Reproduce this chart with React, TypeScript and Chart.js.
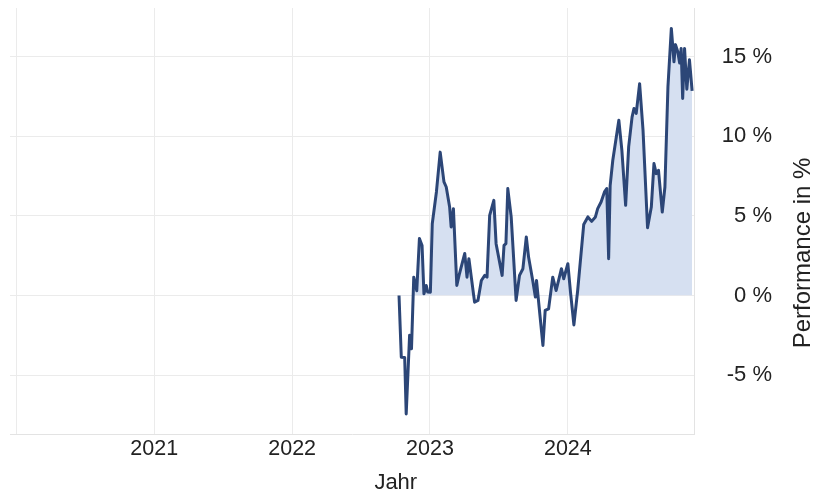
import React, { useEffect, useRef } from "react";
import { Chart, registerables } from "chart.js";

Chart.register(...registerables);

const dates: string[] = [
  "2022-10-11", "2022-10-17", "2022-10-26", "2022-10-30", "2022-11-08", "2022-11-13",
  "2022-11-19", "2022-11-27", "2022-12-04", "2022-12-11", "2022-12-16", "2022-12-22",
  "2022-12-26", "2023-01-02", "2023-01-07", "2023-01-18", "2023-01-28", "2023-02-07",
  "2023-02-13", "2023-02-22", "2023-02-26", "2023-03-04", "2023-03-13", "2023-03-20",
  "2023-04-03", "2023-04-09", "2023-04-14", "2023-04-29", "2023-05-08", "2023-05-17",
  "2023-05-26", "2023-06-01", "2023-06-08", "2023-06-19", "2023-06-25", "2023-07-11",
  "2023-07-16", "2023-07-21", "2023-07-26", "2023-08-04", "2023-08-17", "2023-08-26",
  "2023-09-04", "2023-09-13", "2023-09-19", "2023-09-30", "2023-10-07", "2023-10-10",
  "2023-10-27", "2023-11-02", "2023-11-11", "2023-11-22", "2023-12-01", "2023-12-15",
  "2023-12-21", "2024-01-01", "2024-01-08", "2024-01-17", "2024-01-27", "2024-02-12",
  "2024-02-23", "2024-03-04", "2024-03-14", "2024-03-20", "2024-03-29", "2024-04-07",
  "2024-04-13", "2024-04-18", "2024-04-22", "2024-04-29", "2024-05-15", "2024-05-23",
  "2024-06-02", "2024-06-10", "2024-06-19", "2024-06-24", "2024-06-30", "2024-07-09",
  "2024-07-18", "2024-07-30", "2024-08-09", "2024-08-16", "2024-08-22", "2024-08-28",
  "2024-09-07", "2024-09-14", "2024-09-22", "2024-10-01", "2024-10-08", "2024-10-12",
  "2024-10-18", "2024-10-23", "2024-10-27", "2024-10-31", "2024-11-05", "2024-11-11",
  "2024-11-18", "2024-11-25",
];

const performance: number[] = [
  0.0, -3.88, -3.9, -7.44, -2.5, -3.35,
  1.15, 0.3, 3.57, 3.14, 0.1, 0.63,
  0.21, 0.2, 4.5, 6.5, 9.0, 7.13,
  6.81, 5.55, 4.3, 5.45, 0.63, 1.36,
  2.64, 1.15, 2.31, -0.42, -0.31, 0.94,
  1.26, 1.15, 5.03, 5.97, 3.25, 1.26,
  3.14, 3.25, 6.71, 4.93, -0.31, 1.26,
  1.68, 3.67, 2.41, 0.94, -0.1, 0.94,
  -3.14, -0.94, -0.84, 1.15, 0.31, 1.68,
  1.05, 1.99, 0.21, -1.85, 0.31, 4.45,
  4.93, 4.65, 4.93, 5.45, 5.87, 6.5,
  6.71, 2.31, 6.9, 8.49, 11.0, 9.12,
  5.66, 9.33, 11.2, 11.74, 11.43, 13.3,
  10.4, 4.25, 5.55, 8.28, 7.65, 7.86,
  5.24, 6.81, 13.1, 16.77, 14.67, 15.75,
  15.3, 14.6, 15.51, 12.37, 15.51, 12.95,
  14.8, 12.85,
];

const yearTicks: number[] = [2020, 2021, 2022, 2023, 2024];
const percentTicks: number[] = [-5, 0, 5, 10, 15];
const xRange: string[] = ["2019-12-16", "2024-11-30"];
const yRange: number[] = [-8.7, 18.05];
const xTitle = "Jahr";
const yTitle = "Performance in %";

const FONT = '"Liberation Sans", Arial, Helvetica, sans-serif';
const TEXT = "#222222";
const LINE = "#2c4677";
const FILL = "#d6e0f1";
const GRID = "#ebebeb";

const titlePlugin = {
  id: "axisTitles",
  afterDraw(chart: any) {
    const { ctx, chartArea } = chart;
    ctx.save();
    ctx.fillStyle = TEXT;
    ctx.textAlign = "center";
    ctx.textBaseline = "middle";
    ctx.font = `22px ${FONT}`;
    ctx.fillText(xTitle, chartArea.left + (chartArea.right - chartArea.left) * 0.564, 483);
    ctx.translate(803, chartArea.top + (chartArea.bottom - chartArea.top) * 0.575);
    ctx.rotate(-Math.PI / 2);
    ctx.font = `24px ${FONT}`;
    ctx.fillText(yTitle, 0, 0);
    ctx.restore();
  },
};

export default function App() {
  const ref = useRef<HTMLCanvasElement | null>(null);

  useEffect(() => {
    document.body.style.margin = "0";
    const canvas = ref.current;
    if (!canvas) return;
    const points = dates.map((d, i) => ({ x: Date.parse(d), y: performance[i] }));
    const chart = new Chart(canvas, {
      type: "line",
      data: {
        datasets: [
          {
            data: points,
            borderColor: LINE,
            borderWidth: 3,
            pointRadius: 0,
            tension: 0,
            borderJoinStyle: "round",
            fill: { target: "origin", above: FILL, below: "rgba(0,0,0,0)" },
          },
        ],
      },
      plugins: [titlePlugin],
      options: {
        responsive: false,
        animation: false,
        layout: { padding: { left: 10, top: 8, right: 41, bottom: 0 } },
        plugins: { legend: { display: false }, tooltip: { enabled: false } },
        scales: {
          x: {
            type: "linear",
            min: Date.parse(xRange[0]),
            max: Date.parse(xRange[1]),
            afterBuildTicks: (scale: any) => {
              scale.ticks = yearTicks.map((y) => ({ value: Date.UTC(y, 0, 1) }));
            },
            afterFit: (scale: any) => {
              scale.height = 58;
              scale.paddingLeft = 0;
              scale.paddingRight = 0;
            },
            grid: { color: GRID, lineWidth: 1, drawTicks: false },
            border: { color: "#e3e3e3", width: 1 },
            ticks: {
              autoSkip: false,
              maxRotation: 0,
              padding: 2,
              color: TEXT,
              font: { family: FONT, size: 21.5 },
              callback: (v: any) => {
                const yr = new Date(Number(v)).getUTCFullYear();
                return yr === yearTicks[0] ? "" : String(yr);
              },
            },
          },
          y: {
            position: "right",
            min: yRange[0],
            max: yRange[1],
            afterBuildTicks: (scale: any) => {
              scale.ticks = percentTicks.map((v) => ({ value: v }));
            },
            afterFit: (scale: any) => {
              scale.width = 78;
              scale.paddingTop = 0;
              scale.paddingBottom = 0;
            },
            grid: { color: GRID, lineWidth: 1, drawTicks: false },
            border: { color: "#e3e3e3", width: 1 },
            ticks: {
              crossAlign: "far",
              padding: 0,
              color: TEXT,
              font: { family: FONT, size: 22 },
              callback: (v: any) => `${v} %`,
            },
          },
        },
      },
    } as any);
    return () => chart.destroy();
  }, []);

  return (
    <div style={{ position: "fixed", left: 0, top: 0, width: 813, height: 492, background: "#fff" }}>
      <canvas ref={ref} width={813} height={492} />
    </div>
  );
}
